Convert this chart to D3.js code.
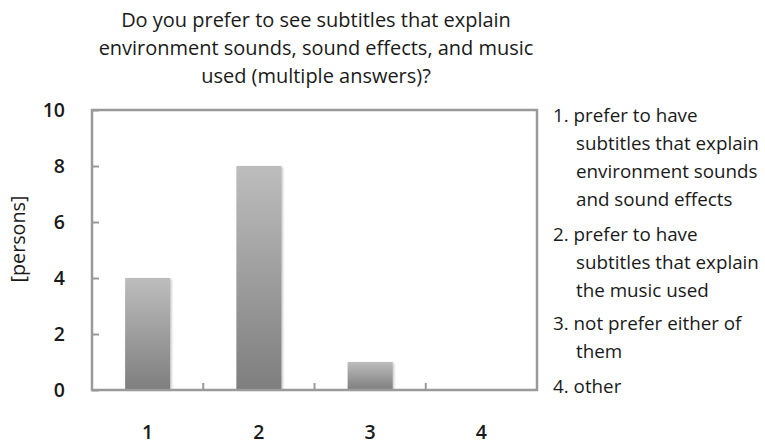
<!DOCTYPE html>
<html>
<head>
<meta charset="utf-8">
<script src="https://cdnjs.cloudflare.com/ajax/libs/d3/7.8.5/d3.min.js"></script>
<style>
  html, body { margin: 0; padding: 0; background: #fff; }
  svg { display: block; font-family: "Open Sans", Lato, sans-serif; }
</style>
</head>
<body>
<svg id="chart" width="765" height="444"></svg>
<script>
// Survey answers
const categories = ["1", "2", "3", "4"];
const persons = [4, 8, 1, 0];
const yTicks = [0, 2, 4, 6, 8, 10];
const titleLines = [
  "Do you prefer to see subtitles that explain",
  "environment sounds, sound effects, and music",
  "used (multiple answers)?"
];
const legendItems = [
  ["1. prefer to have", "subtitles that explain", "environment sounds", "and sound effects"],
  ["2. prefer to have", "subtitles that explain", "the music used"],
  ["3. not prefer either of", "them"],
  ["4. other"]
];

const svg = d3.select("#chart");
const plot = { left: 92, top: 110, right: 537, bottom: 390 };
const textColor = "#1a1a1a";
const frameColor = "#9a9a9a";

// Pick a font size so that a sample string spans the wanted width
function fitSize(sample, width, weight) {
  const t = svg.append("text").attr("font-size", 100).attr("font-weight", weight || 400).text(sample);
  const w = t.node().getComputedTextLength();
  t.remove();
  return 100 * width / w;
}
const titleSize = fitSize(titleLines[0], 390);
const legendSize = fitSize("subtitles that explain", 183);
const tickSize = 19.5;
const axisLabelSize = fitSize("[persons]", 87);

const x = d3.scaleBand().domain(categories).range([plot.left, plot.right]).paddingInner(0).paddingOuter(0);
const y = d3.scaleLinear().domain([0, 10]).range([plot.bottom, plot.top]);

// Bar fill: light at the top, darker toward the base
const defs = svg.append("defs");
const grad = defs.append("linearGradient").attr("id", "barFill")
  .attr("x1", 0).attr("y1", 0).attr("x2", 0).attr("y2", 1);
grad.append("stop").attr("offset", "0%").attr("stop-color", "#bdbdbd");
grad.append("stop").attr("offset", "100%").attr("stop-color", "#7e7e7e");
const blur = defs.append("filter").attr("id", "soft").attr("x", "-20%").attr("width", "140%");
blur.append("feGaussianBlur").attr("stdDeviation", 1.2);

// Title
svg.append("g").selectAll("text").data(titleLines).join("text")
  .attr("x", 316).attr("y", (d, i) => 20 + i * 28).attr("dy", "0.35em")
  .attr("text-anchor", "middle")
  .attr("font-size", titleSize).attr("fill", textColor)
  .text(d => d);

// Bars
const barW = 45;
const barData = persons.map((v, i) => ({ v, c: categories[i] }));
const bars = svg.append("g");
bars.selectAll("rect.shadow").data(barData.filter(d => d.v > 0)).join("rect")
  .attr("class", "shadow")
  .attr("x", d => x(d.c) + x.bandwidth() / 2 - barW / 2 + 1.5)
  .attr("y", d => y(d.v) + 1)
  .attr("width", barW)
  .attr("height", d => y(0) - y(d.v) - 1)
  .attr("fill", "#c8c8c8")
  .attr("filter", "url(#soft)");
bars.selectAll("rect.bar").data(barData).join("rect")
  .attr("class", "bar")
  .attr("x", d => x(d.c) + x.bandwidth() / 2 - barW / 2)
  .attr("y", d => y(d.v))
  .attr("width", barW)
  .attr("height", d => y(0) - y(d.v))
  .attr("fill", "url(#barFill)");

// Frame
svg.append("rect")
  .attr("x", plot.left).attr("y", plot.top)
  .attr("width", plot.right - plot.left).attr("height", plot.bottom - plot.top)
  .attr("fill", "none").attr("stroke", frameColor).attr("stroke-width", 2.5);

// Y axis: ticks point inward
const yAxis = svg.append("g").attr("transform", `translate(${plot.left},0)`)
  .call(d3.axisRight(y).tickValues(yTicks).tickSize(7).tickFormat(""));
yAxis.select(".domain").remove();
yAxis.selectAll(".tick line").attr("stroke", frameColor).attr("stroke-width", 2);
svg.append("g").selectAll("text").data(yTicks).join("text")
  .attr("x", 65).attr("y", d => y(d)).attr("dy", "0.36em")
  .attr("text-anchor", "end").attr("font-size", tickSize).attr("font-weight", 600).attr("fill", textColor)
  .text(d => d);

// X axis: ticks between categories, pointing up
const xAxis = svg.append("g").attr("transform", `translate(0,${plot.bottom})`);
xAxis.selectAll("line").data(categories.slice(1)).join("line")
  .attr("x1", d => x(d)).attr("x2", d => x(d))
  .attr("y1", 0).attr("y2", -7)
  .attr("stroke", frameColor).attr("stroke-width", 2);
xAxis.selectAll("text").data(categories).join("text")
  .attr("x", d => x(d) + x.bandwidth() / 2).attr("y", 42).attr("dy", "0.36em")
  .attr("text-anchor", "middle").attr("font-size", tickSize).attr("font-weight", 600).attr("fill", textColor)
  .text(d => d);

// Y axis label
svg.append("text")
  .attr("transform", "translate(18,239) rotate(-90)")
  .attr("text-anchor", "middle").attr("dy", "0.35em")
  .attr("font-size", axisLabelSize).attr("fill", textColor)
  .text("[persons]");

// Legend
const legend = svg.append("g").attr("font-size", legendSize).attr("fill", textColor);
const itemTops = [115, 234, 323, 386];
legendItems.forEach((lines, i) => {
  lines.forEach((line, j) => {
    legend.append("text")
      .attr("x", j === 0 ? 553 : 576)
      .attr("y", itemTops[i] + j * 28)
      .attr("dy", "0.35em")
      .text(line);
  });
});
</script>
</body>
</html>
